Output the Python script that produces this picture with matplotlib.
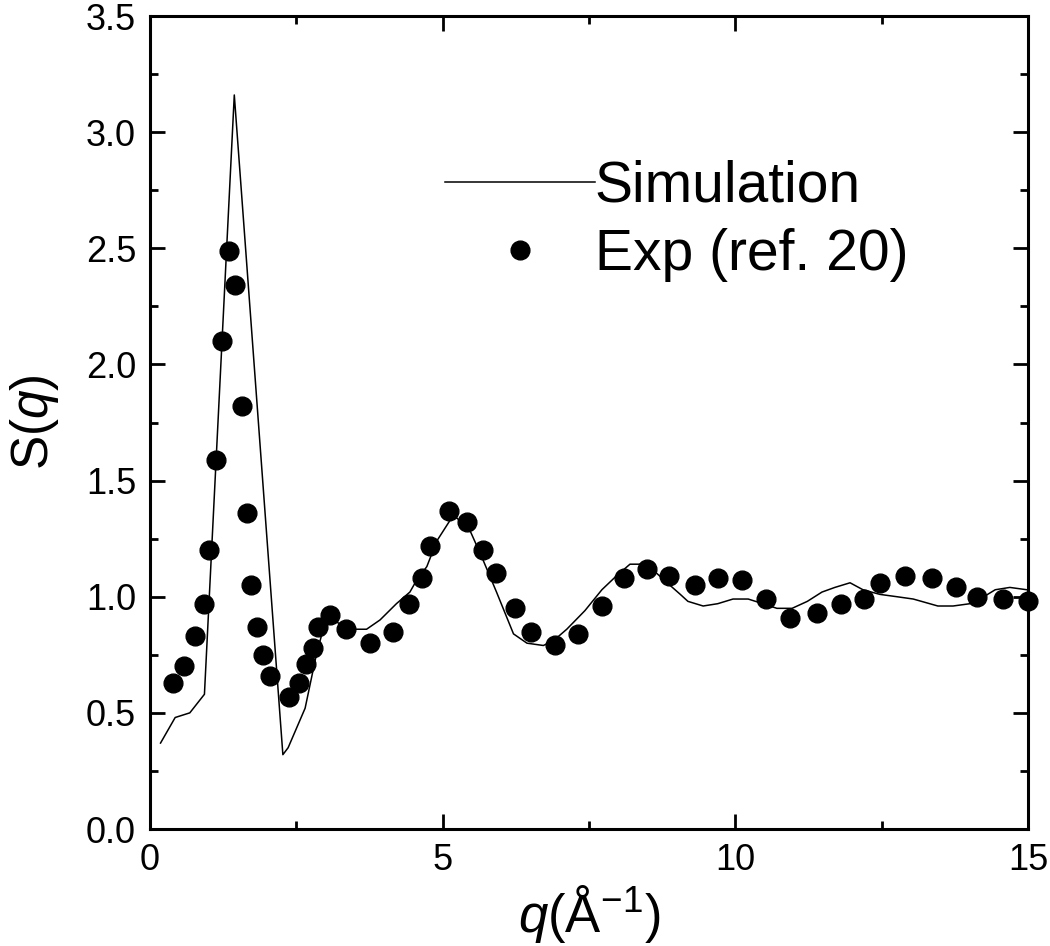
import matplotlib
matplotlib.use("Agg")
import matplotlib.pyplot as plt
from matplotlib.ticker import MultipleLocator

plt.rcParams['font.family'] = ['Liberation Sans', 'DejaVu Sans']
plt.rcParams['mathtext.fontset'] = 'custom'
plt.rcParams['mathtext.rm'] = 'Liberation Sans'
plt.rcParams['mathtext.it'] = 'Liberation Sans:italic'

# Simulation curve
sim_q = [0.18, 0.43, 0.68, 0.93, 1.44, 2.27, 2.36, 2.65, 2.85, 2.96, 3.06, 3.19,
         3.47, 3.70, 3.93, 4.21, 4.44, 4.53, 4.73, 4.90, 5.18, 5.44, 5.67, 5.92,
         6.21, 6.44, 6.72, 6.89, 7.12, 7.43, 7.72, 7.97, 8.20, 8.49, 8.66, 8.88,
         9.06, 9.19, 9.45, 9.70, 9.96, 10.22, 10.47, 10.71, 10.97, 11.23, 11.48,
         11.70, 11.96, 12.18, 12.47, 12.76, 13.04, 13.46, 13.72, 14.01, 14.18,
         14.44, 14.69, 14.98]
sim_S = [0.37, 0.48, 0.50, 0.58, 3.16, 0.32, 0.35, 0.52, 0.76, 0.86, 0.90, 0.89,
         0.86, 0.86, 0.90, 0.97, 1.02, 1.06, 1.13, 1.24, 1.35, 1.30, 1.17, 1.02,
         0.84, 0.80, 0.79, 0.81, 0.86, 0.94, 1.03, 1.09, 1.14, 1.14, 1.10, 1.05,
         1.01, 0.98, 0.96, 0.97, 0.99, 0.99, 0.97, 0.95, 0.95, 0.98, 1.02,
         1.04, 1.06, 1.03, 1.01, 1.00, 0.99, 0.96, 0.96, 0.97, 0.99,
         1.03, 1.04, 1.03]

# Experimental points (ref. 20)
exp_q = [0.39, 0.58, 0.77, 0.92, 1.01, 1.13, 1.23, 1.35, 1.45, 1.57, 1.66, 1.73,
         1.83, 1.93, 2.05, 2.37, 2.55, 2.67, 2.78, 2.87, 3.08, 3.35, 3.76, 4.15,
         4.43, 4.65, 4.78, 5.11, 5.42, 5.69, 5.91, 6.24, 6.51, 6.92, 7.31, 7.72,
         8.10, 8.49, 8.87, 9.31, 9.70, 10.11, 10.52, 10.93, 11.40, 11.81, 12.20,
         12.47, 12.90, 13.36, 13.77, 14.13, 14.57, 15.0]
exp_S = [0.63, 0.70, 0.83, 0.97, 1.20, 1.59, 2.10, 2.49, 2.34, 1.82, 1.36, 1.05,
         0.87, 0.75, 0.66, 0.57, 0.63, 0.71, 0.78, 0.87, 0.92, 0.86, 0.80, 0.85,
         0.97, 1.08, 1.22, 1.37, 1.32, 1.20, 1.10, 0.95, 0.85, 0.79, 0.84, 0.96,
         1.08, 1.12, 1.09, 1.05, 1.08, 1.07, 0.99, 0.91, 0.93, 0.97, 0.99,
         1.06, 1.09, 1.08, 1.04, 1.00, 0.99, 0.98]

fig = plt.figure(figsize=(10.5, 9.46), dpi=100)
ax = fig.add_axes([150/1050, 1 - 829/946, (1028 - 150)/1050, (829 - 16)/946])

ax.plot(sim_q, sim_S, color='black', lw=1.1, label='Simulation', clip_on=False)
ax.plot(exp_q, exp_S, 'o', color='black', ms=13.5, label='Exp (ref. 20)', clip_on=False)

ax.set_xlim(0, 15)
ax.set_ylim(0, 3.5)
ax.xaxis.set_major_locator(MultipleLocator(5))
ax.xaxis.set_minor_locator(MultipleLocator(2.5))
ax.yaxis.set_major_locator(MultipleLocator(0.5))
ax.yaxis.set_minor_locator(MultipleLocator(0.25))
ax.yaxis.set_major_formatter(plt.FuncFormatter(lambda v, p: f"{v:.1f}"))

for s in ax.spines.values():
    s.set_linewidth(2.2)
ax.tick_params(which='both', direction='in', top=True, right=True, width=2.0,
               labelsize=26)
ax.tick_params(which='major', length=11, pad=10)
ax.tick_params(which='minor', length=6)

ax.set_xlabel(r'$q$(Å$^{-1}$)', fontsize=38, labelpad=4)
ax.set_ylabel(r'S($q$)', fontsize=37, labelpad=18)

leg = ax.legend(loc='upper left', bbox_to_anchor=(445/1050, 1 - 160/946),
                bbox_transform=fig.transFigure, frameon=False, fontsize=41,
                handlelength=2.63, handletextpad=0.0, borderpad=0,
                borderaxespad=0, labelspacing=0.24, markerscale=1.0)

fig.savefig('out.png', dpi=100)
